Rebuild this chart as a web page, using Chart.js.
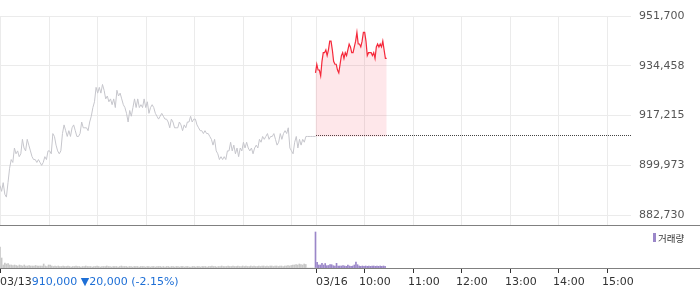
<!DOCTYPE html>
<html>
<head>
<meta charset="utf-8">
<script src="https://cdn.jsdelivr.net/npm/chart.js@4"></script>
<style>
html, body { margin: 0; padding: 0; background: #fff; }
</style>
</head>
<body>
<canvas id="stockChart" width="700" height="289"></canvas>
<script>
// minutes from 03/13 09:00, two sessions of 390 minutes each
const sessionLength = 390
const todayElapsed = 88

const dayLabels = ['03/13', '03/16']
const timeLabels = ['10:00', '11:00', '12:00', '13:00', '14:00', '15:00']
const timeTickMinutes = [450, 510, 570, 630, 690, 750]
const gridMinutes = [0, 60, 120, 180, 240, 300, 360, 390, 450, 510, 570, 630, 690, 750]

const priceTicks = [951700, 934457.5, 917215, 899972.5, 882730]
const priceTickLabels = ['951,700', '934,458', '917,215', '899,973', '882,730']
const basePrice = 910000
const changeText = '910,000 \u25BC20,000 (-2.15%)'

// 03/13 price, sampled about every 2 minutes
const prevPrices = [
  893000, 891000, 894000, 890000, 889000, 894000, 899000, 902000, 901000,
  906000, 904000, 905000, 903000, 904000, 909000, 906000, 905000, 909000, 907000, 905000,
  903000, 902000, 902000, 901000, 902000, 901000, 900000, 901000, 903000, 902000,
  905000, 905000, 904000, 911000, 910000, 907000, 905000, 904000, 905000, 911000,
  914000, 912000, 910000, 912000, 910000, 913000, 914000, 912000, 910000, 910000,
  911000, 915000, 913000, 913000, 913000, 912000, 915000, 917000, 920000, 922000, 927000,
  925000, 927000, 925000, 928000, 926000, 923000, 924000, 922000, 923000, 921000,
  923000, 920000, 926000, 924000, 925000, 923000, 921000,
  920000, 918000, 915000, 919000, 917000, 920000, 923000, 920000, 923000, 920000,
  921000, 920000, 923000, 920000, 922000, 918000, 920000, 921000, 920000, 918000, 917000, 916000,
  917000, 918000, 917000, 916000, 916000, 915000, 913000, 916000, 915000,
  913000, 913000, 913000, 915000, 914000, 912000, 914000, 913000, 915000, 915000, 917000, 915000, 916000,
  916000, 914000, 913000, 912000, 912000, 911000, 912000, 911000,
  911000, 910000, 909000, 907000, 909000, 905000, 904000, 902000, 903000, 902000,
  903000, 902000, 905000, 905000, 908000, 905000, 907000, 904000, 906000, 903000, 906000,
  905000, 908000, 906000, 908000, 906000, 905000, 906000, 904000, 906000, 907000,
  906000, 909000, 908000, 910000, 909000, 910000, 911000, 909000, 910000, 910000,
  911000, 909000, 907000, 908000, 911000, 909000, 911000, 912000, 911000, 913000,
  906000, 905000, 904000, 908000, 910000, 906000, 909000, 907000,
  909000, 908000, 910000, 910000, 910000, 910000, 910000, 910000, 910000
]

// 03/16 price so far
const todayPrices = [
  932000, 935000, 933000, 933000, 931000, 936000, 939000, 939000, 940000, 938000,
  940000, 943000, 943000, 940000, 936000, 935000, 935000, 933000, 932000, 935000,
  938000, 939000, 937000, 939000, 938000, 940000, 942000, 941000, 939000, 939000,
  941000, 943000, 946000, 942000, 942000, 941000, 943000, 946000, 946000, 943000,
  938000, 939000, 939000, 939000, 938000, 939000, 937000, 941000, 942000, 941000,
  942000, 941000, 943000, 940000, 937000, 937000
]

// volume per 2 minutes
const prevVolume = [
  2100, 1000, 300, 500, 400, 450, 300, 300, 250, 300,
  250, 200, 300, 250, 200, 300, 200, 200, 250, 200,
  200, 200, 250, 200, 200, 200, 200, 400, 200, 150,
  300, 300, 200, 150, 200, 150, 200, 150, 150, 200,
  150, 150, 200, 150, 100, 150, 150, 200, 150, 150,
  100, 150, 150, 200, 150, 150, 150, 100, 150, 150,
  200, 150, 100, 150, 150, 150, 200, 150, 150, 100,
  150, 150, 150, 100, 150, 200, 150, 150, 150, 100,
  150, 150, 100, 150, 150, 150, 100, 150, 150, 150,
  100, 150, 150, 100, 150, 150, 100, 150, 150, 150,
  100, 150, 100, 150, 150, 100, 150, 150, 100, 150,
  150, 100, 150, 150, 100, 150, 150, 100, 100, 150,
  150, 100, 150, 150, 100, 150, 150, 150, 100, 150,
  150, 200, 150, 150, 100, 150, 150, 200, 150, 150,
  150, 200, 150, 150, 200, 150, 150, 200, 150, 150,
  200, 150, 200, 150, 150, 200, 150, 200, 150, 150,
  200, 150, 200, 200, 150, 200, 150, 200, 200, 150,
  200, 200, 150, 200, 200, 150, 200, 200, 250, 200,
  250, 300, 300, 350, 300, 400, 350, 300, 400, 350,
  0, 0, 0, 0, 0, 0
]
const todayVolume = [
  3600, 570, 300, 300, 470, 300, 450, 230, 250, 330,
  330, 230, 200, 470, 200, 200, 200, 230, 200, 170,
  300, 200, 170, 200, 300, 600, 330, 200, 170, 200,
  170, 200, 170, 200, 170, 200, 200, 170, 200, 170,
  200, 170, 200, 170
]
const volumeStep = 2

const fontFamily = '"DejaVu Sans", sans-serif'
const volumeColor = '#9b87c9'

const prevStep = sessionLength / (prevPrices.length - 1)
const todayStep = todayElapsed / (todayPrices.length - 1)

const paneDecor = {
    id: 'paneDecor',
    beforeDatasetsDraw(chart) {
        const { ctx, scales: { x, y } } = chart
        ctx.save()
        ctx.strokeStyle = '#ebebeb'
        ctx.lineWidth = 1
        ctx.beginPath()
        gridMinutes.forEach(m => {
            const px = Math.round(x.getPixelForValue(m)) + 0.5
            ctx.moveTo(px, y.top)
            ctx.lineTo(px, y.bottom)
        })
        ctx.stroke()

        // dotted base price line for today
        const by = Math.round(y.getPixelForValue(basePrice)) - 0.5
        ctx.strokeStyle = '#444'
        ctx.setLineDash([1, 1])
        ctx.beginPath()
        ctx.moveTo(Math.round(x.getPixelForValue(sessionLength)), by)
        ctx.lineTo(Math.round(x.right), by)
        ctx.stroke()
        ctx.restore()
    },
    afterDraw(chart) {
        const { ctx, width, scales: { x, y, yv } } = chart
        ctx.save()
        // pane separators
        ctx.strokeStyle = '#808080'
        ctx.lineWidth = 1
        ctx.beginPath()
        ctx.moveTo(0, Math.round(y.bottom) - 0.5)
        ctx.lineTo(width, Math.round(y.bottom) - 0.5)
        ctx.moveTo(0, Math.round(yv.bottom) + 0.5)
        ctx.lineTo(width, Math.round(yv.bottom) + 0.5)
        ctx.stroke()

        // tick marks
        const base = Math.round(yv.bottom) + 1
        ctx.strokeStyle = '#333'
        ctx.beginPath()
        ;[0, sessionLength].concat(timeTickMinutes).forEach(m => {
            const px = Math.round(x.getPixelForValue(m)) + 0.5
            ctx.moveTo(px, base)
            ctx.lineTo(px, base + 4)
        })
        ctx.stroke()

        // x labels
        const ly = base + 13
        ctx.font = '11px ' + fontFamily
        ctx.textBaseline = 'middle'
        ctx.textAlign = 'left'
        ctx.fillStyle = '#333'
        ctx.fillText(dayLabels[0], 0, ly)
        const dayW = ctx.measureText(dayLabels[0]).width
        ctx.fillText(dayLabels[1], Math.round(x.getPixelForValue(sessionLength)), ly)
        timeLabels.forEach((t, i) => {
            ctx.fillText(t, Math.round(x.getPixelForValue(timeTickMinutes[i])) - 5, ly)
        })
        ctx.fillStyle = '#1e6fd6'
        ctx.fillText(changeText, dayW, ly)

        // volume legend
        ctx.fillStyle = volumeColor
        ctx.fillRect(653, yv.top + 7, 3, 9)
        ctx.fillStyle = '#333'
        ctx.font = '9.5px "Noto Sans CJK KR", sans-serif'
        ctx.fillText('거래량', 658, yv.top + 12)
        ctx.restore()
    }
}

const ctx = document.getElementById('stockChart').getContext('2d')
new Chart(ctx, {
    data: {
        datasets: [
            {
                type: 'line',
                data: todayPrices.map((v, i) => ({ x: sessionLength + i * todayStep, y: v })),
                borderColor: '#f5283a',
                borderWidth: 1.2,
                backgroundColor: 'rgba(250, 40, 60, 0.11)',
                fill: { value: basePrice },
                pointRadius: 0,
                tension: 0,
                yAxisID: 'y',
                order: 0,
            },
            {
                type: 'line',
                data: prevPrices.map((v, i) => ({ x: i * prevStep, y: v })),
                borderColor: '#c6c6cc',
                borderWidth: 1,
                fill: false,
                pointRadius: 0,
                tension: 0,
                yAxisID: 'y',
                order: 1,
            },
            {
                type: 'bar',
                data: prevVolume.map((v, i) => ({ x: i * volumeStep, y: v })),
                backgroundColor: '#c8c8c8',
                barThickness: 1,
                grouped: false,
                yAxisID: 'yv',
                order: 3,
            },
            {
                type: 'bar',
                data: todayVolume.map((v, i) => ({ x: sessionLength + i * volumeStep, y: v })),
                backgroundColor: volumeColor,
                barThickness: 1,
                grouped: false,
                yAxisID: 'yv',
                order: 4,
            },
        ]
    },
    options: {
        responsive: false,
        animation: false,
        devicePixelRatio: 1,
        layout: { padding: { top: 16, left: 0, right: 0, bottom: 0 } },
        plugins: {
            legend: { display: false },
            tooltip: { enabled: false },
        },
        scales: {
            x: {
                type: 'linear',
                min: 0,
                max: sessionLength * 2,
                offset: false,
                grid: { display: false },
                ticks: { display: false },
                border: { display: false },
                afterFit: (scale) => { scale.height = 21 },
            },
            y: {
                type: 'linear',
                position: 'right',
                stack: 'panes',
                stackWeight: 5,
                min: 879000,
                max: 951700,
                afterBuildTicks: (scale) => { scale.ticks = priceTicks.map(v => ({ value: v })) },
                ticks: {
                    callback: (v, i) => priceTickLabels[i],
                    color: '#555',
                    font: { family: fontFamily, size: 11 },
                    padding: 8,
                },
                grid: { color: '#ebebeb', drawTicks: false },
                border: { display: false },
                afterFit: (scale) => { scale.width = 69 },
            },
            yv: {
                type: 'linear',
                position: 'right',
                stack: 'panes',
                stackWeight: 1,
                min: 0,
                max: 4200,
                grid: { display: false },
                ticks: { display: false },
                border: { display: false },
                afterFit: (scale) => { scale.width = 69 },
            },
        }
    },
    plugins: [paneDecor]
})
</script>
</body>
</html>
